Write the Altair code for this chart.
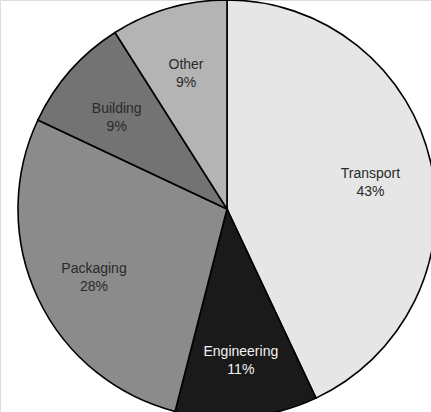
import altair as alt
import pandas as pd

categories = ["Transport", "Engineering", "Packaging", "Building", "Other"]
shares = [43, 11, 28, 9, 9]
fills = ["#e6e6e6", "#1a1a1a", "#8b8b8b", "#737373", "#b4b4b4"]
text_colors = ["#2a2a2a", "#f2f2f2", "#2a2a2a", "#2a2a2a", "#2a2a2a"]

df = pd.DataFrame({
    "category": categories,
    "share": shares,
    "order": list(range(len(categories))),
    "pct": [f"{s}%" for s in shares],
    "tcolor": text_colors,
})

cx, cy, R = 227, 209, 209

base = alt.Chart(df).encode(
    theta=alt.Theta("share:Q", stack=True),
    order=alt.Order("order:Q", sort="ascending"),
)

pie = base.mark_arc(stroke="black", strokeWidth=1.6, outerRadius=R).encode(
    x=alt.value(cx),
    y=alt.value(cy),
    color=alt.Color("category:N",
                    scale=alt.Scale(domain=categories, range=fills),
                    legend=None),
)

labels = base.mark_text(radius=147, font="Liberation Sans", fontSize=14,
                        lineHeight=18, align="center", baseline="middle").encode(
    x=alt.value(cx),
    y=alt.value(cy - 3),
    text=alt.Text("lbl:N"),
    color=alt.Color("tcolor:N", scale=None),
).transform_calculate(lbl="[datum.category, datum.pct]")

chart = alt.layer(pie, labels).properties(
    width=431, height=412,
    autosize=alt.AutoSizeParams(type="none"),
    padding=0,
).configure_view(stroke=None).configure(background="white")

chart.save("out.html", embed_options={"renderer": "svg", "actions": False})
